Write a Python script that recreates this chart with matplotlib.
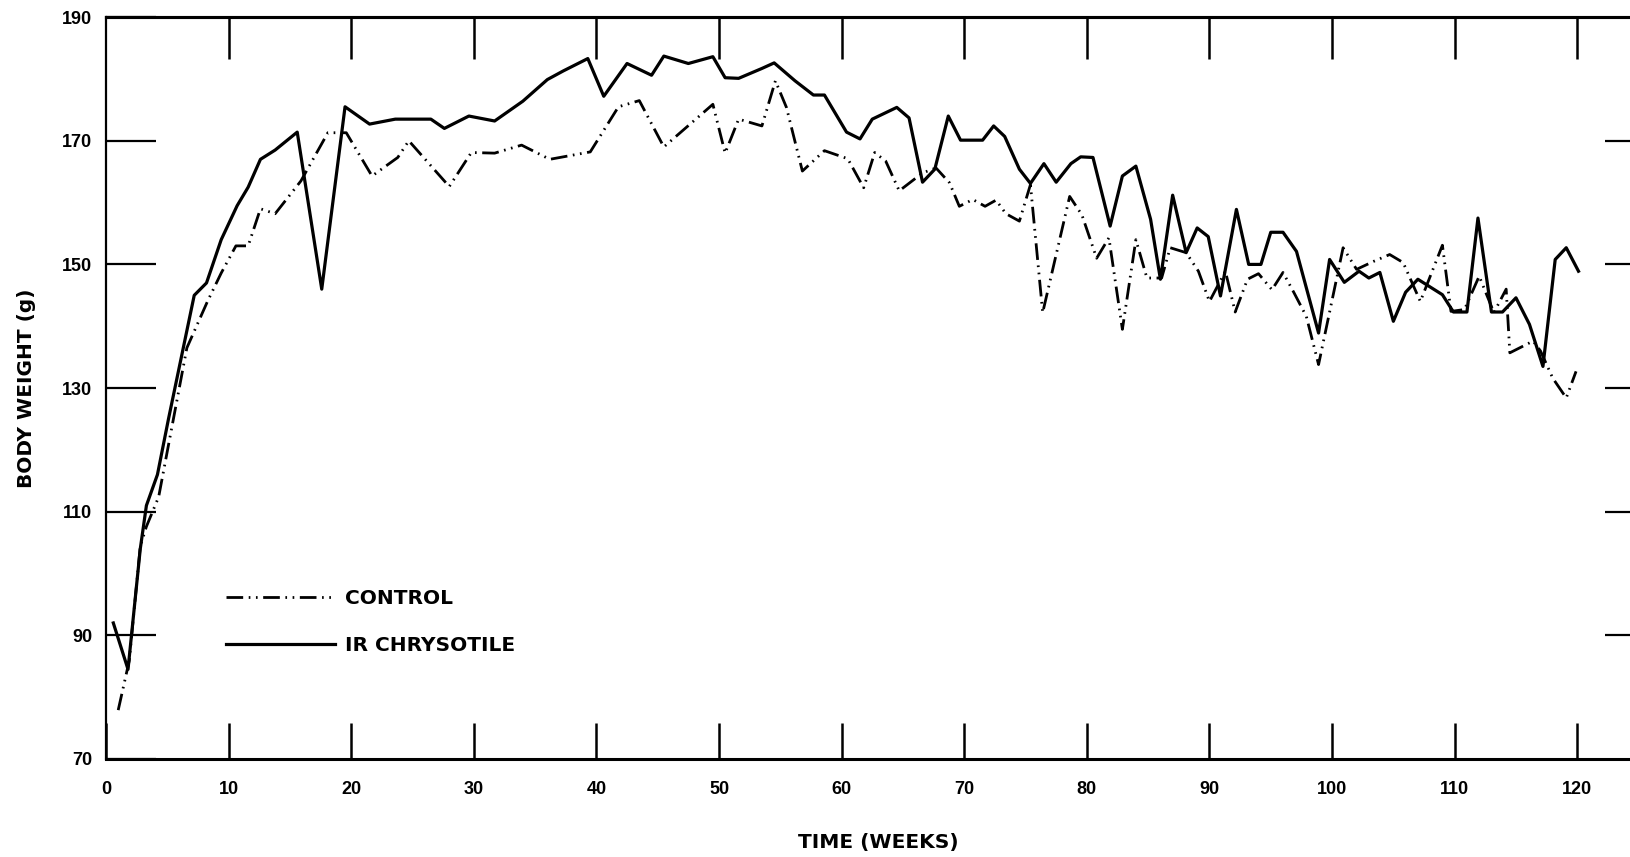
import matplotlib
matplotlib.use("Agg")
import matplotlib.pyplot as plt

plt.rcParams['font.family'] = ['Liberation Sans', 'DejaVu Sans']
plt.rcParams['font.weight'] = 'bold'

# --- data (weeks, body weight in g) ---
ctrl_weeks = [1.0, 1.9, 2.8, 3.3, 4.3, 6.6, 8.3, 9.4, 10.6, 11.6, 12.6, 13.8,
              15.9, 18.1, 19.6, 21.7, 23.8, 24.7, 28.0, 29.8, 31.7, 33.9, 36.2,
              39.5, 41.8, 43.5, 45.5, 49.5, 50.5, 51.6, 53.5, 54.6, 55.5, 56.8,
              58.6, 60.5, 61.8, 62.7, 63.6, 64.7, 66.6, 67.7, 68.8, 69.6, 70.7,
              71.7, 72.6, 73.4, 74.5, 75.4, 76.4, 78.6, 79.6, 80.8, 81.8, 82.9,
              84.0, 84.9, 86.1, 86.8, 88.1, 89.1, 90.0, 91.3, 92.1, 93.1, 94.0,
              95.1, 96.0, 96.9, 97.9, 98.9, 100.9, 102.0, 103.4, 104.7, 105.8,
              107.2, 109.0, 109.7, 110.8, 112.0, 113.2, 114.2, 114.5, 116.4,
              117.0, 118.0, 119.1, 119.9]
ctrl_weight = [77.9, 85.9, 104.4, 107.6, 112.4, 136.5, 144.1, 148.6, 153.0, 153.0,
               159.0, 158.2, 163.5, 171.3, 171.3, 164.3, 167.3, 170.0, 162.6, 168.1,
               168.0, 169.3, 167.0, 168.2, 175.5, 176.5, 169.0, 175.9, 168.0, 173.5,
               172.4, 179.7, 175.4, 165.1, 168.4, 167.1, 162.4, 168.1, 166.7, 161.9,
               164.8, 165.6, 163.2, 159.4, 160.5, 159.4, 160.4, 158.2, 157.0, 162.9,
               142.2, 161.0, 158.0, 151.0, 154.3, 139.5, 154.0, 147.8, 147.8, 152.7,
               151.9, 148.9, 144.0, 148.9, 142.3, 147.6, 148.5, 145.9, 148.7, 145.4,
               141.6, 133.8, 152.7, 149.2, 150.5, 151.6, 150.3, 144.0, 153.1, 142.4,
               142.7, 148.1, 142.2, 146.0, 135.7, 137.6, 136.0, 131.6, 128.4, 132.7]

chry_weeks = [0.6, 1.8, 2.8, 3.3, 4.2, 5.1, 7.2, 8.2, 9.4, 10.7, 11.6, 12.6, 13.8,
              15.6, 17.6, 19.5, 21.5, 23.6, 26.5, 27.6, 29.6, 31.7, 34.0, 36.0,
              37.3, 39.3, 40.6, 42.5, 44.5, 45.5, 47.5, 49.5, 50.5, 51.6, 53.5,
              54.5, 56.2, 57.7, 58.6, 60.4, 61.5, 62.5, 64.5, 65.5, 66.6, 67.6,
              68.7, 69.7, 71.5, 72.4, 73.3, 74.5, 75.4, 76.5, 77.5, 78.7, 79.5,
              80.5, 81.9, 82.9, 84.0, 85.2, 86.0, 87.0, 88.1, 89.0, 89.9, 90.9,
              92.2, 93.2, 94.2, 95.0, 96.0, 97.1, 98.9, 99.8, 101.0, 102.2, 103.0,
              103.9, 105.0, 106.0, 107.0, 109.0, 109.9, 111.0, 111.9, 113.0, 113.9,
              115.0, 116.1, 117.2, 118.2, 119.1, 120.1]
chry_weight = [92.0, 84.5, 104.0, 111.0, 116.0, 125.0, 145.0, 147.0, 154.0, 159.5,
               162.5, 167.0, 168.5, 171.4, 146.0, 175.5, 172.7, 173.5, 173.5, 172.0,
               174.0, 173.2, 176.4, 179.9, 181.3, 183.3, 177.2, 182.5, 180.6, 183.7,
               182.5, 183.6, 180.2, 180.1, 181.7, 182.6, 179.7, 177.4, 177.4, 171.4,
               170.3, 173.5, 175.4, 173.7, 163.3, 165.4, 174.0, 170.1, 170.1, 172.4,
               170.7, 165.4, 163.1, 166.3, 163.3, 166.3, 167.4, 167.3, 156.2, 164.3,
               165.9, 157.3, 147.6, 161.2, 151.9, 155.9, 154.5, 144.9, 158.9, 150.0,
               150.0, 155.2, 155.2, 152.1, 138.9, 150.8, 147.1, 148.9, 147.8, 148.7,
               140.8, 145.5, 147.6, 145.1, 142.3, 142.3, 157.5, 142.3, 142.3, 144.6,
               140.3, 133.5, 150.8, 152.7, 148.9]

x_ticks = [0, 10, 20, 30, 40, 50, 60, 70, 80, 90, 100, 110, 120]
y_ticks = [70, 90, 110, 130, 150, 170, 190]

label_font = {'family': 'DejaVu Sans', 'weight': 'bold', 'size': 14.5}

fig = plt.figure(figsize=(16.3, 8.57), dpi=100)
ax = fig.add_axes([0.065, 0.1144, 0.935, 0.8656])

ax.plot(ctrl_weeks, ctrl_weight, color='black', lw=2.0,
        linestyle=(0, (6, 2, 0.6, 2, 0.6, 2)), label='CONTROL')
ax.plot(chry_weeks, chry_weight, color='black', lw=2.3,
        linestyle='-', label='IR CHRYSOTILE')

ax.set_xlim(0, 124.3)
ax.set_ylim(70, 190)

ax.set_xticks(x_ticks)
ax.set_yticks(y_ticks)
ax.tick_params(axis='x', direction='in', length=26, width=1.8, pad=16,
               labelsize=13)
ax.tick_params(axis='y', direction='in', length=36, width=1.6, pad=10,
               labelsize=13)

for s in ['top', 'bottom']:
    ax.spines[s].set_linewidth(2.2)
ax.spines['left'].set_linewidth(1.6)
ax.spines['right'].set_visible(False)

# top and right tick marks (no labels)
top = ax.secondary_xaxis('top')
top.set_xticks(x_ticks[1:])
top.tick_params(direction='in', length=30, width=1.8, labeltop=False)
top.spines['top'].set_linewidth(2.2)

right = ax.secondary_yaxis('right')
right.set_yticks(y_ticks[1:-1])
right.tick_params(direction='in', length=18, width=1.6, labelright=False)
right.spines['right'].set_visible(False)

ax.set_ylabel('BODY WEIGHT (g)', fontdict=label_font)
ax.yaxis.set_label_coords(-0.046, 0.5)
ax.set_xlabel('TIME (WEEKS)', fontdict=label_font)
ax.xaxis.set_label_coords(0.507, -0.100)

leg = ax.legend(loc='upper left', bbox_to_anchor=(0.079, 0.2286),
                frameon=False, borderaxespad=0, borderpad=0,
                handlelength=5.4, handletextpad=0.5, labelspacing=1.37,
                prop=label_font)

fig.savefig('out.png', dpi=100)
